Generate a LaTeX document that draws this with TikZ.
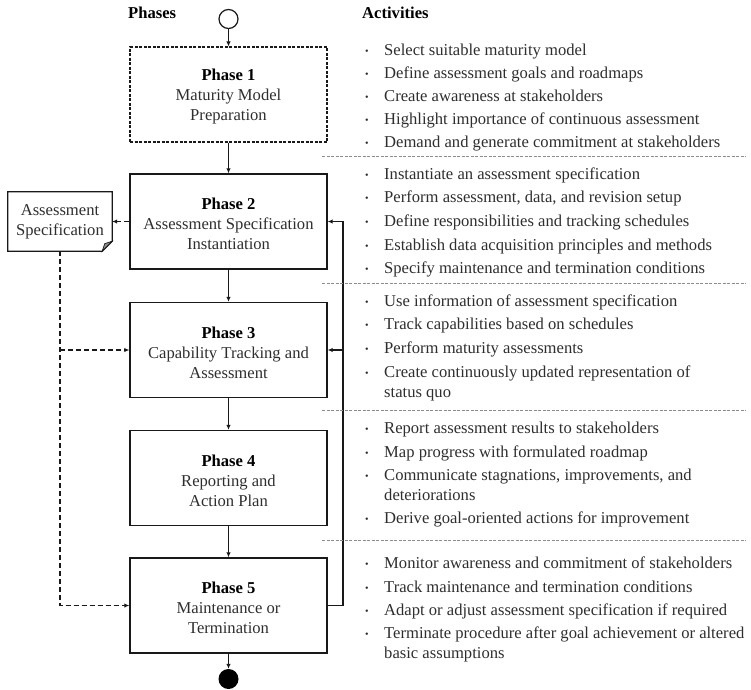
\documentclass[tikz,border=0pt]{standalone}
\usepackage{fontspec}
\setmainfont{Liberation Serif}
\usetikzlibrary{arrows.meta}
\newcommand\bul{\makebox[19pt][l]{\fontsize{10}{10}\selectfont\raisebox{0.6pt}{•}}}
\begin{document}
\begin{tikzpicture}[x=1pt,y=1pt,
  every node/.style={font=\fontsize{16.6}{20}\selectfont, text=black!82},
  phasebox/.style={draw=black!90, line width=1.4pt, minimum width=197pt, minimum height=95pt, inner sep=0pt},
  ptext/.style={align=center, inner sep=0pt},
  hdr/.style={anchor=base west, inner sep=0pt, font=\fontsize{16.6}{20}\selectfont\bfseries, text=black},
  conn/.style={line width=1.5pt, draw=black!90, -{Latex[length=5pt,width=4.5pt]}},
  dconn/.style={conn, dash pattern=on 5pt off 3pt},
  shadowline/.style={line width=1.8pt, draw=black!30},
  sepline/.style={draw=black!45, line width=0.6pt, dash pattern=on 3pt off 1.5pt},
  act/.style={anchor=base west, inner sep=0pt},
]
\useasboundingbox (0,0) rectangle (751,-689);

% headers
\node[hdr] (hph) at (128,-18) {Phases};
\node[hdr] (hact) at (362,-18) {Activities};

% start / end
\node[circle, draw=black!90, line width=1.2pt, minimum size=19pt, inner sep=0pt] (start) at (228.5,-19) {};
\node[circle, fill=black, minimum size=20pt, inner sep=0pt] (finish) at (228.5,-679) {};

% phases
\node[phasebox, dash pattern=on 3pt off 1.5pt, line width=1.2pt] (p1) at (228.5,-94.5) {};
\node[ptext] (p1t) at ([yshift=-2.5]p1.center) {\textbf{\color{black}Phase 1}\\Maturity Model\\Preparation};
\node[phasebox] (p2) at (228.5,-221.5) {};
\node[ptext] (p2t) at ([yshift=-2.5]p2.center) {\textbf{\color{black}Phase 2}\\Assessment Specification\\Instantiation};
\node[phasebox] (p3) at (228.5,-350) {};
\node[ptext] (p3t) at ([yshift=-2.5]p3.center) {\textbf{\color{black}Phase 3}\\Capability Tracking and\\Assessment};
\node[phasebox] (p4) at (228.5,-478) {};
\node[ptext] (p4t) at ([yshift=-2.5]p4.center) {\textbf{\color{black}Phase 4}\\Reporting and\\Action Plan};
\node[phasebox] (p5) at (228.5,-605.5) {};
\node[ptext] (p5t) at ([yshift=-2.5]p5.center) {\textbf{\color{black}Phase 5}\\Maintenance or\\Termination};

% document
\node[minimum width=104pt, minimum height=59pt, inner sep=0pt, align=center] (spec) at (60,-221.5) {Assessment\\Specification};
\draw[draw=black!90, line width=1.2pt] (spec.north west) -- (spec.north east) -- ([yshift=10]spec.south east) -- ([xshift=-10]spec.south east) -- (spec.south west) -- cycle;
\filldraw[draw=black!90, fill=black!45, line width=0.7pt] ([yshift=10]spec.south east) -- ([xshift=-10]spec.south east) -- ([xshift=-7.5,yshift=7.5]spec.south east) -- cycle;

% main flow
\draw[conn] (start) -- (p1);
\draw[conn] (p1) -- (p2);
\draw[conn] (p2) -- (p3);
\draw[conn] (p3) -- (p4);
\draw[conn] (p4) -- (p5);
\draw[conn] (p5) -- (finish);

% dashed links
\draw[dconn] (p2.west) -- (spec.east);
\draw[dconn] (spec.south) |- (p5.west);
\coordinate (b3) at (spec.south |- p3.west);
\draw[dconn] (b3) -- (p3.west);

% feedback
\coordinate (fb) at (343,0);
\draw[shadowline, shift={(1.4,-1.4)}] (p5.east) -- (fb |- p5.east) -- (fb |- p2.east);
\draw[conn] (p5.east) -- (fb |- p5.east) -- (fb |- p2.east) -- (p2.east);
\draw[conn] (fb |- p3.east) -- (p3.east);

% separators
\foreach \yy/\nm in {156/s1, 283/s2, 410/s3, 540/s4} {
  \coordinate (\nm a) at (322,-\yy);
  \coordinate (\nm b) at (746,-\yy);
  \draw[sepline] (\nm a) -- (\nm b);
}

% activities
\node[act] (a11) at (365,-55) {\bul Select suitable maturity model};
\node[act] (a12) at (365,-78) {\bul Define assessment goals and roadmaps};
\node[act] (a13) at (365,-101) {\bul Create awareness at stakeholders};
\node[act] (a14) at (365,-124) {\bul Highlight importance of continuous assessment};
\node[act] (a15) at (365,-147) {\bul Demand and generate commitment at stakeholders};

\node[act] (a21) at (365,-179) {\bul Instantiate an assessment specification};
\node[act] (a22) at (365,-202) {\bul Perform assessment, data, and revision setup};
\node[act] (a23) at (365,-226) {\bul Define responsibilities and tracking schedules};
\node[act] (a24) at (365,-250) {\bul Establish data acquisition principles and methods};
\node[act] (a25) at (365,-273) {\bul Specify maintenance and termination conditions};

\node[act] (a31) at (365,-306) {\bul Use information of assessment specification};
\node[act] (a32) at (365,-329) {\bul Track capabilities based on schedules};
\node[act] (a33) at (365,-353) {\bul Perform maturity assessments};
\node[act] (a34) at (365,-377) {\bul Create continuously updated representation of};
\node[act] (a34b) at (384,-397) {status quo};

\node[act] (a41) at (365,-433) {\bul Report assessment results to stakeholders};
\node[act] (a42) at (365,-457) {\bul Map progress with formulated roadmap};
\node[act] (a43) at (365,-480) {\bul Communicate stagnations, improvements, and};
\node[act] (a43b) at (384,-500) {deteriorations};
\node[act] (a44) at (365,-523) {\bul Derive goal-oriented actions for improvement};

\node[act] (a51) at (365,-568) {\bul Monitor awareness and commitment of stakeholders};
\node[act] (a52) at (365,-592) {\bul Track maintenance and termination conditions};
\node[act] (a53) at (365,-615) {\bul Adapt or adjust assessment specification if required};
\node[act] (a54) at (365,-638) {\bul Terminate procedure after goal achievement or altered};
\node[act] (a54b) at (384,-658) {basic assumptions};
\end{tikzpicture}
\end{document}
